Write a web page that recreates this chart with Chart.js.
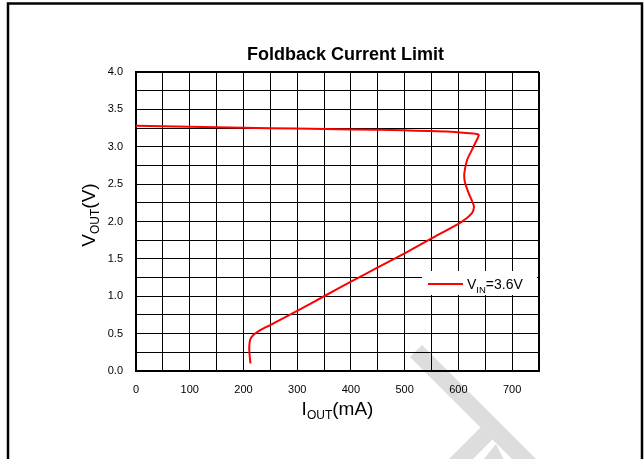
<!DOCTYPE html>
<html>
<head>
<meta charset="utf-8">
<script src="https://cdn.jsdelivr.net/npm/chart.js@4/dist/chart.umd.min.js"></script>
<style>
  html, body { margin: 0; padding: 0; background: #fff; }
  #wrap { width: 644px; height: 459px; position: relative; }
</style>
</head>
<body>
<div id="wrap"><canvas id="foldbackChart"></canvas></div>
<script>
// Foldback curve, traced from the top-left going clockwise (mA, V)
const ioutMA = [0, 100, 200, 300, 400, 500, 580, 622, 634, 638, 631, 625, 616, 611, 612, 618, 626, 629, 625, 606, 550, 500, 450, 400, 350, 300, 270, 250, 232, 220, 213, 211, 211, 213];
const voutV  = [3.28, 3.268, 3.255, 3.243, 3.232, 3.22, 3.205, 3.18, 3.17, 3.155, 3.044, 2.955, 2.82, 2.643, 2.53, 2.40, 2.263, 2.197, 2.108, 1.996, 1.774, 1.575, 1.385, 1.195, 1.0, 0.805, 0.69, 0.615, 0.55, 0.49, 0.43, 0.35, 0.25, 0.10];
const xLabels = [0, 100, 200, 300, 400, 500, 600, 700];
const yLabels = [0, 0.5, 1.0, 1.5, 2.0, 2.5, 3.0, 3.5, 4.0];

const FONT = "'Liberation Sans', Arial, sans-serif";

// draw text with a subscript part: main, sub, rest
function subText(ctx, parts, x, y, mainSize, subSize, align) {
  ctx.font = mainSize + 'px ' + FONT;
  const w1 = ctx.measureText(parts[0]).width;
  const w3 = ctx.measureText(parts[2]).width;
  ctx.font = subSize + 'px ' + FONT;
  const w2 = ctx.measureText(parts[1]).width;
  let sx = x;
  if (align === 'center') sx = x - (w1 + w2 + w3) / 2;
  ctx.textAlign = 'left';
  ctx.textBaseline = 'alphabetic';
  ctx.font = mainSize + 'px ' + FONT;
  ctx.fillText(parts[0], sx, y);
  ctx.font = subSize + 'px ' + FONT;
  ctx.fillText(parts[1], sx + w1, y + 4);
  ctx.font = mainSize + 'px ' + FONT;
  ctx.fillText(parts[2], sx + w1 + w2, y);
}

const decor = {
  id: 'decor',
  beforeDraw(chart) {
    const ctx = chart.ctx;
    ctx.save();
    ctx.fillStyle = '#fff';
    ctx.fillRect(0, 0, chart.width, chart.height);

    // faint watermark strokes in the lower right
    ctx.strokeStyle = '#dddddd';
    ctx.fillStyle = '#dddddd';
    ctx.lineWidth = 17;
    ctx.lineCap = 'butt';
    ctx.beginPath();
    ctx.moveTo(416, 351); ctx.lineTo(545, 480);
    ctx.moveTo(440, 480); ctx.lineTo(492, 428);
    ctx.stroke();
    ctx.beginPath();
    ctx.moveTo(483, 460); ctx.lineTo(496, 444); ctx.lineTo(504, 460);
    ctx.closePath();
    ctx.fill();

    // page frame
    ctx.strokeStyle = '#000';
    ctx.lineWidth = 2.5;
    ctx.beginPath();
    ctx.moveTo(8, 470); ctx.lineTo(8, 3.5); ctx.lineTo(642, 3.5); ctx.lineTo(642, 470);
    ctx.stroke();
    ctx.restore();
  },
  afterDraw(chart) {
    const ctx = chart.ctx;
    const area = chart.chartArea;
    const cx = (area.left + area.right) / 2;
    ctx.save();
    ctx.fillStyle = '#000';

    // title
    ctx.font = 'bold 18px ' + FONT;
    ctx.textAlign = 'center';
    ctx.textBaseline = 'alphabetic';
    ctx.fillText('Foldback Current Limit', cx + 8, 60);

    // x axis title
    subText(ctx, ['I', 'OUT', '(mA)'], cx, 415, 19, 12, 'center');

    // y axis title
    ctx.save();
    ctx.translate(95, 215);
    ctx.rotate(-Math.PI / 2);
    subText(ctx, ['V', 'OUT', '(V)'], 0, 0, 19, 12, 'center');
    ctx.restore();

    // legend box
    ctx.fillStyle = '#fff';
    ctx.fillRect(422, 271, 115, 24);
    ctx.strokeStyle = '#ff0000';
    ctx.lineWidth = 2;
    ctx.beginPath();
    ctx.moveTo(428, 284); ctx.lineTo(463, 284);
    ctx.stroke();
    ctx.fillStyle = '#000';
    ctx.textAlign = 'left';
    ctx.font = '14px ' + FONT;
    ctx.fillText('V', 467, 288.5);
    const wV = ctx.measureText('V').width;
    ctx.font = '9.5px ' + FONT;
    ctx.fillText('IN', 467 + wV, 293);
    const wIn = ctx.measureText('IN').width;
    ctx.font = '14px ' + FONT;
    ctx.fillText('=3.6V', 467 + wV + wIn, 288.5);
    ctx.restore();
  }
};

const points = ioutMA.map((x, i) => ({ x: x, y: voutV[i] }));

new Chart(document.getElementById('foldbackChart'), {
  type: 'line',
  data: {
    datasets: [{
      label: 'VIN=3.6V',
      data: points,
      borderColor: '#ff0000',
      borderWidth: 2,
      pointRadius: 0,
      tension: 0.25,
      fill: false
    }]
  },
  options: {
    responsive: true,
    maintainAspectRatio: false,
    animation: false,
    layout: { padding: { left: 0, top: 72, right: 105, bottom: 0 } },
    plugins: {
      legend: { display: false },
      title: { display: false },
      tooltip: { enabled: false }
    },
    scales: {
      x: {
        type: 'linear',
        min: 0,
        max: 750,
        afterFit: s => { s.height = 88; },
        afterBuildTicks: s => {
          s.ticks = [];
          for (let v = 0; v <= 750; v += 50) s.ticks.push({ value: v });
        },
        grid: {
          color: '#000',
          drawTicks: false,
          lineWidth: c => (c.tick && c.tick.value === 750) ? 2 : 1
        },
        border: { color: '#000', width: 2 },
        ticks: {
          padding: 12,
          color: '#000',
          font: { family: FONT, size: 11 },
          maxRotation: 0,
          autoSkip: false,
          callback: v => xLabels.includes(v) ? String(v) : ''
        }
      },
      y: {
        min: 0,
        max: 4,
        afterFit: s => { s.width = 136; },
        afterBuildTicks: s => {
          s.ticks = [];
          for (let k = 0; k <= 16; k++) s.ticks.push({ value: k * 0.25 });
        },
        grid: {
          color: '#000',
          drawTicks: false,
          lineWidth: c => (c.tick && c.tick.value === 4) ? 2 : 1
        },
        border: { color: '#000', width: 2 },
        ticks: {
          padding: 13,
          color: '#000',
          font: { family: FONT, size: 11 },
          autoSkip: false,
          callback: v => yLabels.includes(v) ? v.toFixed(1) : ''
        }
      }
    }
  },
  plugins: [decor]
});
</script>
</body>
</html>
